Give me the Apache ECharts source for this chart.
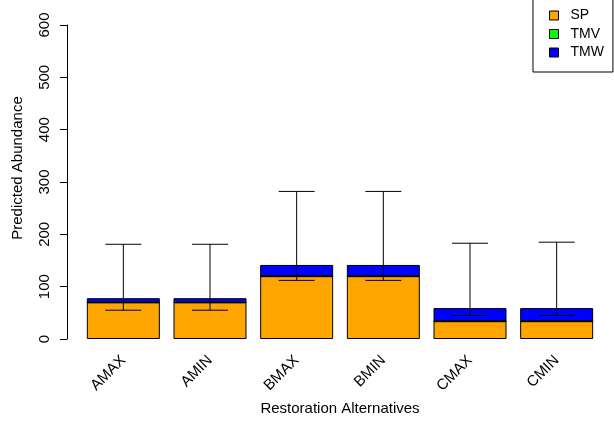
<!DOCTYPE html>
<html>
<head>
<meta charset="utf-8">
<script src="https://cdn.jsdelivr.net/npm/echarts@6/dist/echarts.min.js"></script>
<style>
html,body{margin:0;padding:0;background:#fff;}
#c{width:614px;height:425px;}
</style>
</head>
<body>
<div id="c"></div>
<script>
var categories = ['AMAX', 'AMIN', 'BMAX', 'BMIN', 'CMAX', 'CMIN'];
var spValues = [70, 70, 120, 120, 34, 34];
var tmvValues = [0, 0, 0, 0, 0, 0];
var tmwValues = [8, 8, 21.5, 21.5, 25, 25];
var errLow = [55, 55, 112, 112, 45, 45];
var errHigh = [181, 181, 282, 282, 183, 185];
var yTicks = [0, 100, 200, 300, 400, 500, 600];

var FONT = 'Liberation Sans, Arial, sans-serif';
var FS = 15;
var chart = echarts.init(document.getElementById('c'), null, {renderer: 'canvas'});

var errData = categories.map(function (c, i) { return [i, errLow[i], errHigh[i]]; });

var barStyle = function (color) {
  return {color: color, borderColor: '#000', borderWidth: 1};
};

chart.setOption({
  animation: false,
  backgroundColor: '#fff',
  textStyle: {fontFamily: FONT},
  grid: {left: 80, right: 14, top: 25, bottom: 86, containLabel: false},
  legend: {
    orient: 'vertical',
    left: 533,
    top: -10,
    padding: [18.5, 9, 12.5, 16],
    itemWidth: 9,
    itemHeight: 9,
    itemGap: 4.5,
    borderColor: '#000',
    borderWidth: 1,
    icon: 'rect',
    textStyle: {fontFamily: FONT, fontSize: 14, color: '#000', padding: [0, 0, 0, 7], lineHeight: 14},
    data: [
      {name: 'SP', itemStyle: barStyle('#FFA500')},
      {name: 'TMV', itemStyle: barStyle('#00FF00')},
      {name: 'TMW', itemStyle: barStyle('#0000FF')}
    ]
  },
  xAxis: {
    type: 'category',
    data: categories,
    axisLine: {show: false},
    axisTick: {show: false},
    axisLabel: {rotate: 45, margin: 19, fontSize: FS, color: '#000', fontFamily: FONT, interval: 0},
    name: 'Restoration Alternatives',
    nameLocation: 'middle',
    nameGap: 61,
    nameTextStyle: {fontSize: FS, color: '#000', fontFamily: FONT}
  },
  yAxis: {
    type: 'value',
    min: 0,
    max: 600,
    interval: 100,
    offset: 13,
    splitLine: {show: false},
    axisLine: {show: true, lineStyle: {color: '#000', width: 1}},
    axisTick: {show: true, length: 7, lineStyle: {color: '#000'}},
    axisLabel: {rotate: 90, margin: 15, fontSize: FS, color: '#000', fontFamily: FONT,
      formatter: function (v) { return yTicks.indexOf(v) >= 0 ? String(v) : ''; }},
    name: 'Predicted Abundance',
    nameLocation: 'middle',
    nameGap: 42,
    nameTextStyle: {fontSize: FS, color: '#000', fontFamily: FONT, padding: [0, 0, 0, 28]}
  },
  series: [
    {name: 'SP', type: 'bar', stack: 'a', data: spValues, barWidth: 73, itemStyle: barStyle('#FFA500')},
    {name: 'TMV', type: 'bar', stack: 'a', data: tmvValues, barWidth: 73, itemStyle: barStyle('#00FF00')},
    {name: 'TMW', type: 'bar', stack: 'a', data: tmwValues, barWidth: 73, itemStyle: barStyle('#0000FF')},
    {
      name: 'err',
      type: 'custom',
      data: errData,
      encode: {x: 0, y: [1, 2]},
      z: 10,
      renderItem: function (params, api) {
        var idx = api.value(0);
        var lo = api.coord([idx, api.value(1)]);
        var hi = api.coord([idx, api.value(2)]);
        var half = 18;
        var style = {stroke: '#000', lineWidth: 1, fill: null};
        return {
          type: 'group',
          children: [
            {type: 'line', shape: {x1: lo[0], y1: lo[1], x2: hi[0], y2: hi[1]}, style: style},
            {type: 'line', shape: {x1: hi[0] - half, y1: hi[1], x2: hi[0] + half, y2: hi[1]}, style: style},
            {type: 'line', shape: {x1: lo[0] - half, y1: lo[1], x2: lo[0] + half, y2: lo[1]}, style: style}
          ]
        };
      }
    }
  ]
});
</script>
</body>
</html>
